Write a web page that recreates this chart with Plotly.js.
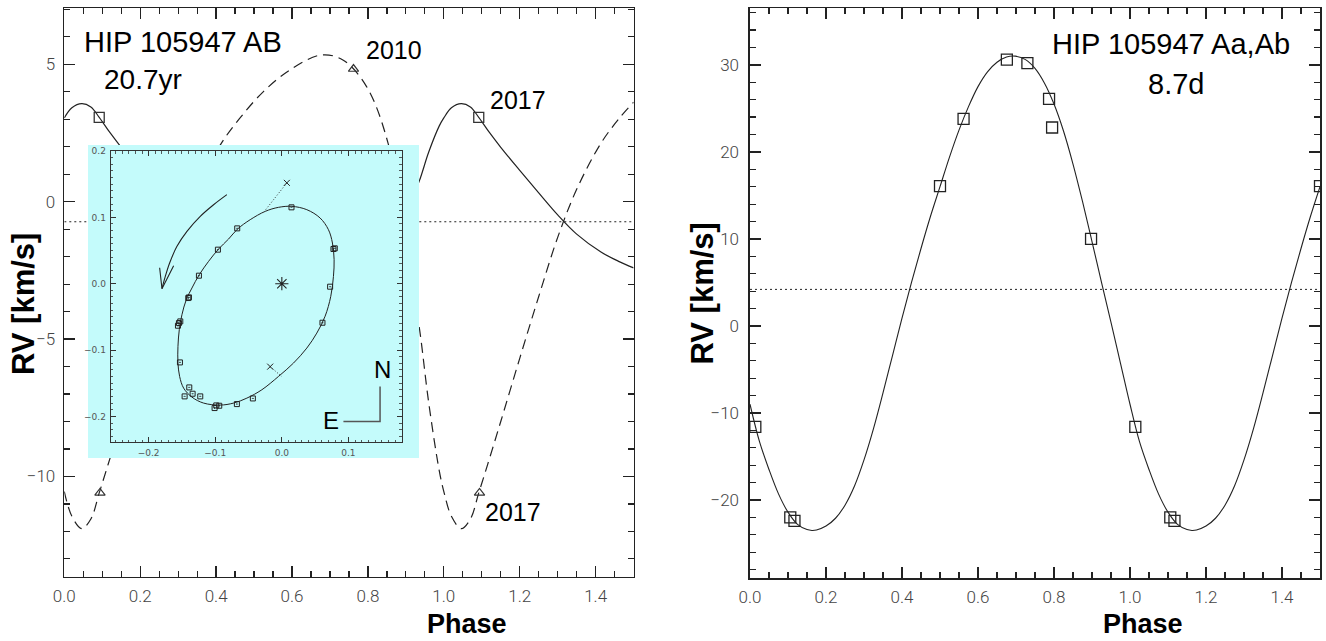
<!DOCTYPE html>
<html>
<head>
<meta charset="utf-8">
<script src="https://cdn.plot.ly/plotly-3.0.1.min.js"></script>
<style>html,body{margin:0;padding:0;background:#fff;}#chart{width:1326px;height:641px;}</style>
</head>
<body>
<div id="chart"></div>
<script>
// ---------- Left panel: HIP 105947 AB (20.7 yr) ----------
const phaseAB = [0.00, 0.02, 0.046, 0.07, 0.092, 0.12, 0.15, 0.20, 0.25, 0.30, 0.35, 0.414, 0.462, 0.524, 0.594, 0.677, 0.734, 0.796, 0.853, 0.90, 0.935, 0.96, 0.988, 1.00, 1.02, 1.046, 1.07, 1.092, 1.12, 1.15, 1.20, 1.25, 1.30, 1.35, 1.414, 1.462, 1.50];
const rvA = [3.05, 3.42, 3.57, 3.45, 3.07, 2.52, 1.98, 1.14, 0.32, -0.48, -1.18, -1.83, -2.18, -2.55, -2.85, -3.07, -3.00, -2.63, -1.83, -0.40, 0.74, 1.80, 2.76, 3.05, 3.42, 3.57, 3.45, 3.07, 2.52, 1.98, 1.14, 0.32, -0.48, -1.18, -1.83, -2.18, -2.41];
const rvB = [-10.55, -11.45, -11.9, -11.55, -10.6, -9.36, -8.0, -5.7, -3.45, -1.3, 0.45, 2.13, 3.03, 4.0, 4.79, 5.34, 5.16, 4.2, 2.13, -1.6, -4.54, -7.3, -9.8, -10.55, -11.45, -11.9, -11.55, -10.6, -9.36, -8.0, -5.7, -3.45, -1.3, 0.45, 2.13, 3.03, 3.62];
const gammaABx = [0, 1.5];
const gammaAB = [-0.73, -0.73];
const obsAphase = [0.092, 1.092];
const obsArv = [3.07, 3.07];
const obsBphase = [0.094, 0.762, 1.094];
const obsBrv = [-10.6, 4.83, -10.6];
const yearLabels = ['2010', '2017', '2017'];

// ---------- Inset: visual orbit ----------
const orbitX = [0.015, 0.0375, 0.0575, 0.07, 0.076, 0.0785, 0.0775, 0.0735, 0.065, 0.0525, 0.0375, 0.0175, -0.005, -0.03, -0.0525, -0.0725, -0.0925, -0.1175, -0.135, -0.1475, -0.1535, -0.156, -0.156, -0.154, -0.15, -0.1435, -0.135, -0.124, -0.11, -0.095, -0.08, -0.0665, -0.0475, -0.025, -0.005, 0.015];
const orbitY = [0.1166, 0.1116, 0.099, 0.0814, 0.0613, 0.0362, 0.011, -0.019, -0.049, -0.0744, -0.097, -0.1196, -0.1397, -0.1598, -0.1724, -0.1799, -0.1829, -0.1799, -0.1709, -0.1573, -0.1397, -0.1196, -0.0945, -0.0693, -0.0467, -0.0241, -0.0065, 0.0136, 0.0337, 0.0523, 0.0673, 0.0824, 0.0965, 0.109, 0.1151, 0.1166];
const measX = [0.0145, -0.067, -0.096, -0.1245, -0.1405, -0.1395, -0.1525, -0.1545, -0.156, -0.153, -0.139, -0.146, -0.134, -0.1225, -0.101, -0.0985, -0.094, -0.0675, -0.0435, 0.061, 0.0725, 0.0775, 0.0795];
const measY = [0.1151, 0.0834, 0.0513, 0.0121, -0.0216, -0.0206, -0.0568, -0.0593, -0.0633, -0.1186, -0.1563, -0.1698, -0.1658, -0.1698, -0.1874, -0.1834, -0.1839, -0.1814, -0.1729, -0.0588, -0.0045, 0.0523, 0.0533];
const primaryX = [0.0];
const primaryY = [0.0];
const nodeX = [0.0075, -0.0175];
const nodeY = [0.152, -0.125];
const nodeLineX = [0.0075, -0.025, null, -0.0175, 0.0];
const nodeLineY = [0.152, 0.1106, null, -0.125, -0.14];
const arrowX = [-0.0825, -0.1025, -0.1225, -0.1425, -0.1575, -0.1685, -0.175, -0.18];
const arrowY = [0.1342, 0.119, 0.1015, 0.0789, 0.0563, 0.0312, 0.011, -0.0075];
const arrowHeadX = [-0.1625, -0.18, -0.1835];
const arrowHeadY = [0.027, -0.0075, 0.024];
const compassX = [0.1475, 0.1475, 0.0925];
const compassY = [-0.155, -0.2075, -0.2075];

// ---------- Right panel: HIP 105947 Aa,Ab (8.7 d) ----------
const phaseAa = [0, 0.025, 0.05, 0.075, 0.10, 0.125, 0.15, 0.163, 0.175, 0.20, 0.225, 0.25, 0.275, 0.30, 0.325, 0.35, 0.375, 0.40, 0.425, 0.45, 0.475, 0.50, 0.525, 0.55, 0.575, 0.60, 0.625, 0.65, 0.675, 0.698, 0.725, 0.75, 0.775, 0.80, 0.825, 0.85, 0.875, 0.90, 0.925, 0.95, 0.975,
  1.0, 1.025, 1.05, 1.075, 1.10, 1.125, 1.15, 1.163, 1.175, 1.20, 1.225, 1.25, 1.275, 1.30, 1.325, 1.35, 1.375, 1.40, 1.425, 1.45, 1.475, 1.50];
const rvAa = [-9.0, -13.3, -16.5, -19.3, -21.4, -22.8, -23.4, -23.5, -23.45, -23.0, -22.1, -20.6, -18.4, -15.4, -11.8, -7.7, -3.4, 0.9, 5.0, 8.9, 12.6, 16.0, 19.4, 22.5, 25.2, 27.5, 29.2, 30.3, 30.9, 31.0, 30.6, 29.6, 27.9, 25.5, 22.4, 18.6, 14.3, 9.7, 5.0, 0.4, -4.3,
  -9.0, -13.3, -16.5, -19.3, -21.4, -22.8, -23.4, -23.5, -23.45, -23.0, -22.1, -20.6, -18.4, -15.4, -11.8, -7.7, -3.4, 0.9, 5.0, 8.9, 12.6, 16.0];
const gammaAaX = [0, 1.5];
const gammaAa = [4.2, 4.2];
const obsAaPhase = [0.014, 0.106, 0.117, 0.50, 0.562, 0.676, 0.730, 0.787, 0.795, 0.8975, 1.014, 1.106, 1.117, 1.50];
const obsAaRv = [-11.6, -22.0, -22.4, 16.06, 23.8, 30.6, 30.2, 26.1, 22.8, 10.0, -11.6, -22.0, -22.4, 16.06];

// ---------- geometry helpers (pixel -> paper) ----------
const W = 1326, H = 641;
const px = v => v / W;
const py = v => 1 - v / H;

const ink = '#222';
const tickFont = {family: 'Roboto, "Liberation Sans", Arial, sans-serif', size: 17, color: '#444', weight: 300};
const labFont = {family: '"Liberation Sans", Arial, sans-serif', color: '#000'};

function mainAxis(extra) {
  return Object.assign({
    showline: true, linecolor: ink, linewidth: 1.6, mirror: 'allticks',
    ticks: 'inside', tickcolor: ink, tickwidth: 1.3, ticklen: 11,
    showgrid: false, zeroline: false, fixedrange: true, tickfont: tickFont
  }, extra);
}
function insetAxis(extra) {
  return Object.assign({
    showline: true, linecolor: '#333', linewidth: 1, mirror: 'allticks',
    ticks: 'inside', tickcolor: '#333', tickwidth: 1, ticklen: 5,
    dtick: 0.1, tickformat: '.1f',
    minor: {dtick: 0.01, ticklen: 2.5, ticks: 'inside', tickcolor: '#333', tickwidth: 0.8},
    showgrid: false, zeroline: false, fixedrange: true,
    tickfont: {family: '"DejaVu Sans", sans-serif', size: 9, color: '#555'}, ticklabelstandoff: 2
  }, extra);
}

const lineCol = '#222';
const traces = [
  // left panel
  {x: gammaABx, y: gammaAB, xaxis: 'x', yaxis: 'y', mode: 'lines', line: {color: lineCol, width: 1, dash: '2px,3px'}},
  {x: phaseAB, y: rvA, xaxis: 'x', yaxis: 'y', mode: 'lines', line: {color: lineCol, width: 1.2, shape: 'spline', smoothing: 1}},
  {x: phaseAB, y: rvB, xaxis: 'x', yaxis: 'y', mode: 'lines', line: {color: lineCol, width: 1.2, dash: '10px,6px', shape: 'spline', smoothing: 1}},
  {x: obsAphase, y: obsArv, xaxis: 'x', yaxis: 'y', mode: 'markers', marker: {symbol: 'square-open', size: 10, color: '#333', line: {width: 1.3}}},
  {x: obsBphase, y: obsBrv, xaxis: 'x', yaxis: 'y', mode: 'markers', marker: {symbol: 'triangle-up-open', size: 9, color: '#333', line: {width: 1.2}}},
  // right panel
  {x: gammaAaX, y: gammaAa, xaxis: 'x2', yaxis: 'y2', mode: 'lines', line: {color: lineCol, width: 1, dash: '2px,3px'}},
  {x: phaseAa, y: rvAa, xaxis: 'x2', yaxis: 'y2', mode: 'lines', line: {color: lineCol, width: 1.1, shape: 'spline', smoothing: 1}},
  {x: obsAaPhase, y: obsAaRv, xaxis: 'x2', yaxis: 'y2', mode: 'markers', marker: {symbol: 'square-open', size: 11, color: '#222', line: {width: 1.3}}},
  // inset background holder
  {x: [null], y: [null], xaxis: 'x3', yaxis: 'y3', mode: 'markers'},
  // inset orbit
  {x: orbitX, y: orbitY, xaxis: 'x4', yaxis: 'y4', mode: 'lines', line: {color: '#222', width: 1, shape: 'spline', smoothing: 1}},
  {x: nodeLineX, y: nodeLineY, xaxis: 'x4', yaxis: 'y4', mode: 'lines', line: {color: '#333', width: 1, dash: '1px,2px'}},
  {x: measX, y: measY, xaxis: 'x4', yaxis: 'y4', mode: 'markers', marker: {symbol: 'square-open-dot', size: 5, color: '#222', line: {width: 1}}},
  {x: primaryX, y: primaryY, xaxis: 'x4', yaxis: 'y4', mode: 'markers', marker: {symbol: 'asterisk-open', size: 11, color: '#222', line: {width: 1.1}}},
  {x: nodeX, y: nodeY, xaxis: 'x4', yaxis: 'y4', mode: 'markers', marker: {symbol: 'x-thin-open', size: 6, color: '#222', line: {width: 1}}},
  {x: arrowX, y: arrowY, xaxis: 'x4', yaxis: 'y4', mode: 'lines', line: {color: '#222', width: 1.1, shape: 'spline'}},
  {x: arrowHeadX, y: arrowHeadY, xaxis: 'x4', yaxis: 'y4', mode: 'lines', line: {color: '#222', width: 1.1}},
  {x: compassX, y: compassY, xaxis: 'x4', yaxis: 'y4', mode: 'lines', line: {color: '#555', width: 1.5}}
];
traces.forEach(t => { t.showlegend = false; t.hoverinfo = 'skip'; t.cliponaxis = true; });

const layout = {
  width: W, height: H,
  margin: {l: 0, r: 0, t: 0, b: 0},
  paper_bgcolor: '#fff', plot_bgcolor: 'rgba(0,0,0,0)',
  showlegend: false,
  xaxis: mainAxis({domain: [px(64.3), px(633.6)], range: [0, 1.5], dtick: 0.2, tick0: 0, tickformat: '.1f', anchor: 'y', ticklabelstandoff: 3,
    minor: {dtick: 0.05, ticklen: 6, ticks: 'inside', tickcolor: ink, tickwidth: 1.2}}),
  yaxis: mainAxis({domain: [py(576.7), py(8.3)], range: [-13.65, 7.04], dtick: 5, tick0: 0, anchor: 'x', ticklabelstandoff: 4,
    minor: {dtick: 1, ticklen: 6, ticks: 'inside', tickcolor: ink, tickwidth: 1.2}}),
  xaxis2: mainAxis({domain: [px(750), px(1320)], range: [0, 1.5], dtick: 0.2, tick0: 0, tickformat: '.1f', anchor: 'y2', ticklabelstandoff: 3,
    minor: {dtick: 0.05, ticklen: 6, ticks: 'inside', tickcolor: ink, tickwidth: 1.2}}),
  yaxis2: mainAxis({domain: [py(578.3), py(8.3)], range: [-29.0, 36.5], dtick: 10, tick0: 0, anchor: 'x2', ticklabelstandoff: 6,
    minor: {dtick: 2, ticklen: 6, ticks: 'inside', tickcolor: ink, tickwidth: 1.2}}),
  xaxis3: {domain: [px(88), px(419)], range: [0, 1], visible: false, fixedrange: true, anchor: 'y3'},
  yaxis3: {domain: [py(458), py(145)], range: [0, 1], visible: false, fixedrange: true, anchor: 'x3'},
  xaxis4: insetAxis({domain: [px(110.7), px(401.7)], range: [-0.257, 0.18], anchor: 'y4'}),
  yaxis4: insetAxis({domain: [py(442.3), py(151)], range: [-0.239, 0.2], anchor: 'x4'}),
  shapes: [
    {type: 'rect', xref: 'x3', yref: 'y3', x0: -1, x1: 2, y0: -1, y1: 2, fillcolor: '#c4fbfb', line: {width: 0}, layer: 'below'}
  ],
  annotations: [
    {text: 'HIP 105947 AB', x: px(82), y: py(42), xref: 'paper', yref: 'paper', xanchor: 'left', yanchor: 'middle', showarrow: false, font: Object.assign({size: 29}, labFont)},
    {text: '20.7yr', x: px(102), y: py(79), xref: 'paper', yref: 'paper', xanchor: 'left', yanchor: 'middle', showarrow: false, font: Object.assign({size: 28}, labFont)},
    {text: yearLabels[0], x: px(394), y: py(50), xref: 'paper', yref: 'paper', xanchor: 'center', yanchor: 'middle', showarrow: false, font: Object.assign({size: 25}, labFont)},
    {text: yearLabels[1], x: px(518), y: py(100), xref: 'paper', yref: 'paper', xanchor: 'center', yanchor: 'middle', showarrow: false, font: Object.assign({size: 25}, labFont)},
    {text: yearLabels[2], x: px(513), y: py(512), xref: 'paper', yref: 'paper', xanchor: 'center', yanchor: 'middle', showarrow: false, font: Object.assign({size: 25}, labFont)},
    {text: 'HIP 105947 Aa,Ab', x: px(1292), y: py(44), xref: 'paper', yref: 'paper', xanchor: 'right', yanchor: 'middle', showarrow: false, font: Object.assign({size: 29}, labFont)},
    {text: '8.7d', x: px(1175.5), y: py(84), xref: 'paper', yref: 'paper', xanchor: 'center', yanchor: 'middle', showarrow: false, font: Object.assign({size: 29}, labFont)},
    {text: 'N', x: 0.151, y: -0.1297, xref: 'x4', yref: 'y4', xanchor: 'center', yanchor: 'middle', showarrow: false, font: Object.assign({size: 24}, labFont)},
    {text: 'E', x: 0.0735, y: -0.206, xref: 'x4', yref: 'y4', xanchor: 'center', yanchor: 'middle', showarrow: false, font: Object.assign({size: 24}, labFont)},
    {text: '<b>RV [km/s]</b>', x: px(23), y: py(304), xref: 'paper', yref: 'paper', xanchor: 'center', yanchor: 'middle', textangle: -90, showarrow: false, font: Object.assign({size: 31}, labFont)},
    {text: '<b>RV [km/s]</b>', x: px(701.5), y: py(294), xref: 'paper', yref: 'paper', xanchor: 'center', yanchor: 'middle', textangle: -90, showarrow: false, font: Object.assign({size: 31}, labFont)},
    {text: '<b>Phase</b>', x: px(467), y: py(624), xref: 'paper', yref: 'paper', xanchor: 'center', yanchor: 'middle', showarrow: false, font: Object.assign({size: 27}, labFont)},
    {text: '<b>Phase</b>', x: px(1143), y: py(624), xref: 'paper', yref: 'paper', xanchor: 'center', yanchor: 'middle', showarrow: false, font: Object.assign({size: 27}, labFont)}
  ]
};

Plotly.newPlot('chart', traces, layout, {staticPlot: true, displayModeBar: false});
</script>
</body>
</html>
